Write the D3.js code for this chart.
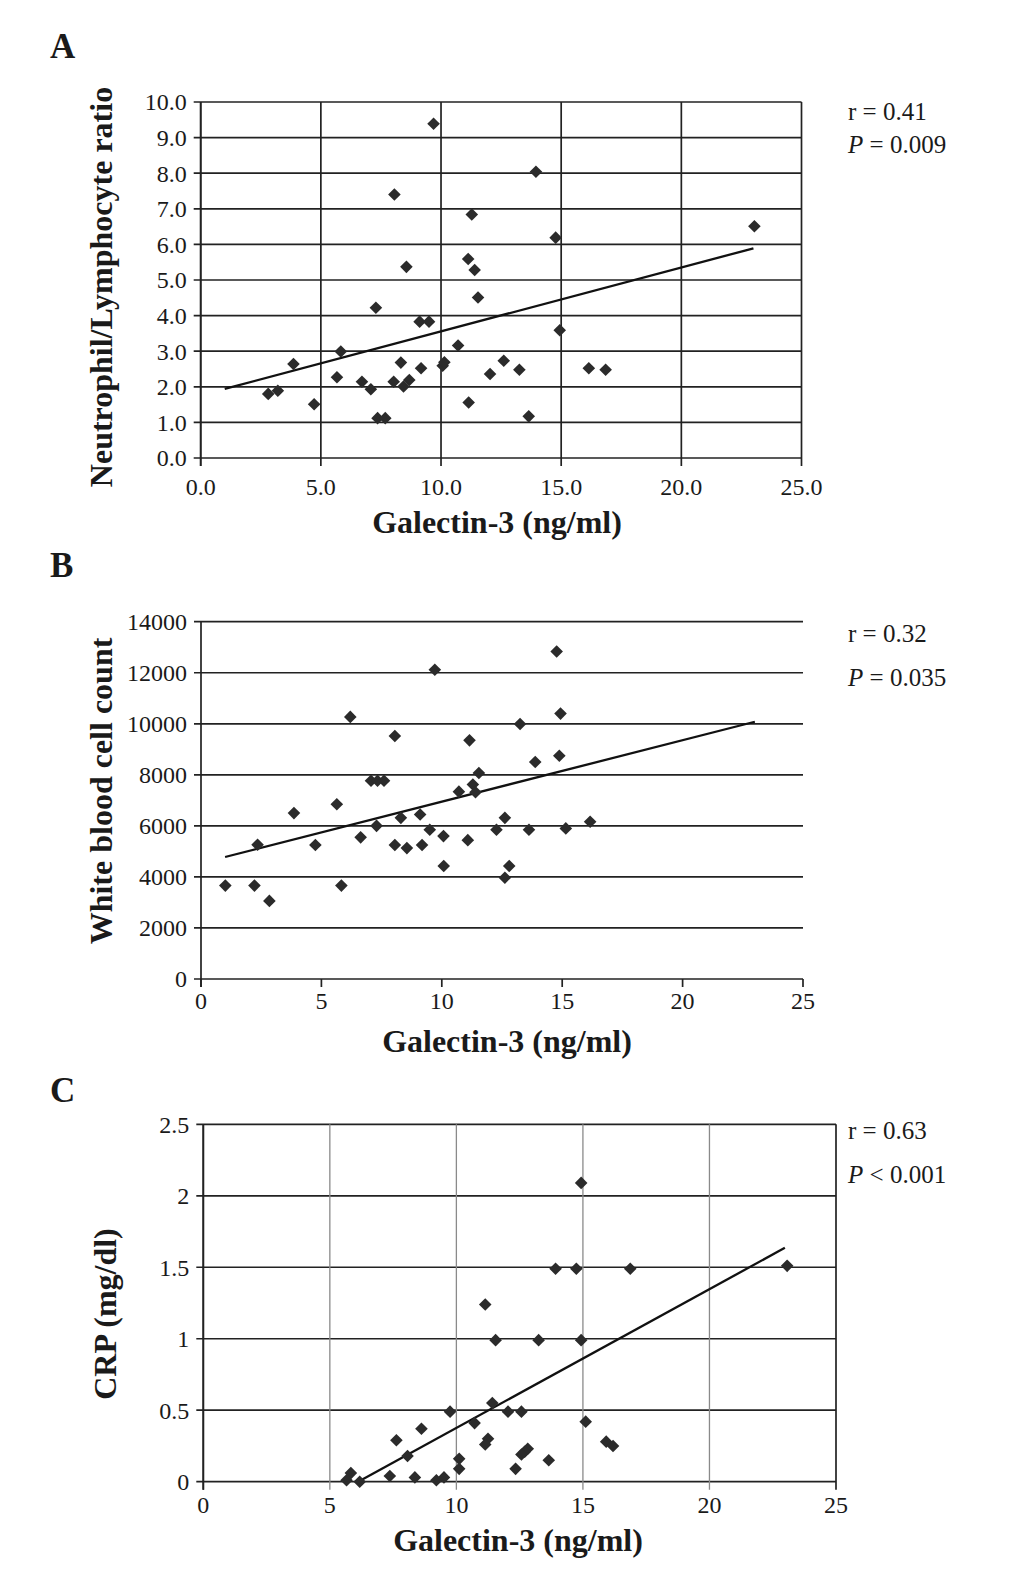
<!DOCTYPE html>
<html><head><meta charset="utf-8">
<script src="https://cdn.jsdelivr.net/npm/d3@7"></script>
<style>body{margin:0;background:#fff}svg{display:block}text{font-family:"Liberation Serif","Times New Roman",serif;fill:#1a1a1a}</style>
</head><body>
<svg id="c" width="1033" height="1569"></svg>
<script>
// Panel A: Galectin-3 vs Neutrophil/Lymphocyte ratio
const galA = [9.69,8.06,11.28,11.13,11.40,11.54,8.56,7.29,9.11,9.50,10.71,5.83,3.86,2.81,3.21,4.72,5.67,6.71,7.08,7.36,7.68,8.03,8.33,8.44,8.68,9.17,10.07,10.14,11.15,12.04,12.61,13.95,14.77,23.04,14.94,13.26,16.15,16.85,13.65];
const nlrA = [9.39,7.40,6.84,5.59,5.28,4.51,5.37,4.22,3.83,3.83,3.16,2.99,2.64,1.80,1.89,1.51,2.27,2.14,1.93,1.12,1.12,2.14,2.68,2.01,2.19,2.52,2.59,2.69,1.56,2.36,2.73,8.04,6.19,6.51,3.59,2.48,2.52,2.48,1.17];
const fitA = [[1.0,1.94],[23.0,5.89]];
const yTicksA = [0,1,2,3,4,5,6,7,8,9,10];
const xTicksA = [0,5,10,15,20,25];

// Panel B: Galectin-3 vs White blood cell count
const galB = [1.01,2.22,2.84,2.35,3.86,4.75,5.64,6.20,5.83,6.63,7.29,7.06,7.33,7.60,8.05,8.05,8.30,8.55,9.10,9.18,9.50,9.71,10.07,10.08,10.71,11.08,11.15,11.29,11.40,11.54,12.27,12.62,12.62,12.80,14.77,14.93,13.25,14.88,13.88,13.62,15.15,16.16];
const wbcB = [3660,3660,3060,5260,6500,5250,6850,10270,3660,5550,6000,7770,7770,7770,9520,5250,6315,5130,6445,5250,5850,12120,5600,4430,7340,5440,9350,7620,7320,8070,5850,6315,3970,4430,12830,10400,9990,8750,8500,5850,5900,6160];
const fitB = [[1.0,4780],[23.0,10080]];
const yTicksB = [0,2000,4000,6000,8000,10000,12000,14000];
const xTicksB = [0,5,10,15,20,25];

// Panel C: Galectin-3 vs CRP
const galC = [11.14,11.55,9.75,11.42,12.04,10.72,8.62,7.63,11.25,11.14,8.07,10.11,10.11,12.34,5.83,5.66,6.18,7.37,8.36,9.21,9.51,14.93,13.92,14.74,16.87,23.07,13.25,14.93,12.57,15.11,15.92,16.19,12.82,12.70,12.57,13.65];
const crpC = [1.24,0.99,0.49,0.55,0.49,0.41,0.37,0.29,0.30,0.26,0.18,0.16,0.09,0.09,0.06,0.01,0.0,0.04,0.03,0.01,0.03,2.09,1.49,1.49,1.49,1.51,0.99,0.99,0.49,0.42,0.28,0.25,0.23,0.21,0.19,0.15];
const fitC = [[6.12,0.0],[22.98,1.636]];
const yTicksC = [0,0.5,1,1.5,2,2.5];
const yTickLabelsC = ["0","0.5","1","1.5","2","2.5"];
const xTicksC = [0,5,10,15,20,25];

const svg = d3.select("#c");
const diamond = "M0,-6.3L6.3,0L0,6.3L-6.3,0Z";

function panel(o){
  const g = svg.append("g");
  const x = d3.scaleLinear().domain(o.xd).range(o.xr);
  const y = d3.scaleLinear().domain(o.yd).range(o.yr);
  g.selectAll(".hg").data(o.yTicks).join("line")
    .attr("x1", o.xr[0]-7).attr("x2", o.xr[1])
    .attr("y1", d=>y(d)).attr("y2", d=>y(d))
    .attr("stroke", "#222").attr("stroke-width", 1.7);
  g.selectAll(".vg").data(o.xTicks).join("line")
    .attr("x1", d=>x(d)).attr("x2", d=>x(d))
    .attr("y1", d=> o.vgrid ? y(o.yd[1]) : y(0)).attr("y2", y(0)+8)
    .attr("stroke", d=> (o.vgColor && d!==o.xd[0] && d!==o.xd[1]) ? o.vgColor : "#222")
    .attr("stroke-width", d=> (o.vgColor && d!==o.xd[0] && d!==o.xd[1]) ? 1.3 : 1.7);
  g.append("line").attr("x1", x(0)).attr("x2", x(0)).attr("y1", y(o.yd[1])).attr("y2", y(0)+8)
    .attr("stroke","#222").attr("stroke-width",1.7);
  g.selectAll(".yl").data(o.yTicks).join("text")
    .attr("x", o.xr[0]-14).attr("y", d=>y(d)).attr("dy","0.35em")
    .attr("text-anchor","end").attr("font-size", o.tickFs)
    .text((d,i)=> o.yFmt(d,i));
  g.selectAll(".xl").data(o.xTicks).join("text")
    .attr("x", d=>x(d)).attr("y", y(0)+o.xLabOff)
    .attr("text-anchor","middle").attr("font-size", o.tickFs)
    .text(d=>o.xFmt(d));
  g.append("line").attr("x1", x(o.fit[0][0])).attr("y1", y(o.fit[0][1]))
    .attr("x2", x(o.fit[1][0])).attr("y2", y(o.fit[1][1]))
    .attr("stroke","#111").attr("stroke-width",2.3);
  g.selectAll(".pt").data(o.xs).join("path")
    .attr("d", diamond)
    .attr("transform", (d,i)=>`translate(${x(d)},${y(o.ys[i])})`)
    .attr("fill","#2b2b2b");
  g.append("text").attr("x", o.xTitle[0]).attr("y", o.xTitle[1])
    .attr("text-anchor","middle").attr("font-size",32).attr("font-weight","bold").text("Galectin-3 (ng/ml)");
  g.append("text").attr("transform", `translate(${o.yTitle[0]},${o.yTitle[1]}) rotate(-90)`)
    .attr("text-anchor","middle").attr("font-size",32).attr("font-weight","bold").text(o.yLabel);
  g.append("text").attr("x", o.letter[1]).attr("y", o.letter[2])
    .attr("font-size",35).attr("font-weight","bold").text(o.letter[0]);
  g.append("text").attr("x", 848).attr("y", o.stats[0]).attr("font-size",25).text(o.r);
  const t = g.append("text").attr("x", 848).attr("y", o.stats[1]).attr("font-size",25);
  t.append("tspan").attr("font-style","italic").text("P");
  t.append("tspan").text(o.p);
}

panel({xd:[0,25], xr:[200.7,801.5], yd:[0,10], yr:[458,102],
  yTicks:yTicksA, xTicks:xTicksA, vgrid:true, xLabOff:37,
  yFmt:d=>d.toFixed(1), xFmt:d=>d.toFixed(1), tickFs:24,
  xs:galA, ys:nlrA, fit:fitA,
  xTitle:[497,533], yTitle:[112,287], yLabel:"Neutrophil/Lymphocyte ratio",
  letter:["A",50,58], stats:[120,153], r:"r = 0.41", p:" = 0.009"});

panel({xd:[0,25], xr:[201,803], yd:[0,14000], yr:[979,621.7],
  yTicks:yTicksB, xTicks:xTicksB, vgrid:false, xLabOff:30,
  yFmt:d=>String(d), xFmt:d=>String(d), tickFs:24,
  xs:galB, ys:wbcB, fit:fitB,
  xTitle:[507,1052], yTitle:[112,791], yLabel:"White blood cell count",
  letter:["B",50,577], stats:[642,686], r:"r = 0.32", p:" = 0.035"});

panel({xd:[0,25], xr:[203.3,836], yd:[0,2.5], yr:[1481.7,1124.3],
  yTicks:yTicksC, xTicks:xTicksC, vgrid:true, vgColor:"#8a8a8a", xLabOff:31,
  yFmt:(d,i)=>yTickLabelsC[i], xFmt:d=>String(d), tickFs:24,
  xs:galC, ys:crpC, fit:fitC,
  xTitle:[518,1551], yTitle:[116,1314], yLabel:"CRP (mg/dl)",
  letter:["C",50,1102], stats:[1139,1183], r:"r = 0.63", p:" < 0.001"});
</script>
</body></html>
